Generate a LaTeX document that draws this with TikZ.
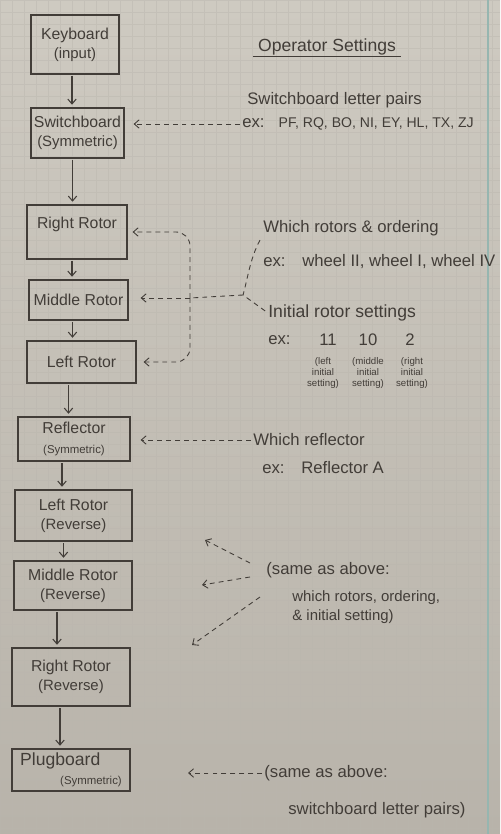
\documentclass[tikz,border=0pt]{standalone}
\usepackage{fontspec}
\setmainfont{Liberation Sans}
\usetikzlibrary{arrows.meta, positioning}

\definecolor{paper}{RGB}{206,202,193}
\definecolor{paperdark}{RGB}{184,179,170}
\definecolor{gridline}{RGB}{186,182,174}
\definecolor{pencil}{RGB}{66,61,56}
\definecolor{marginline}{RGB}{150,182,176}

\newcommand{\boxsub}[1]{{\fontsize{8.5}{10}\selectfont #1}}
\newcommand{\boxsmall}[1]{{\fontsize{6.5}{8}\selectfont #1}}

\begin{document}
\begin{tikzpicture}[x=0.2mm, y=-0.2mm, >={Straight Barb[length=2.8pt, width=4.8pt]},
  every node/.style={text=pencil},
  stage/.style={draw=pencil, line width=0.7pt, align=center, inner sep=1pt, font=\fontsize{9}{11}\selectfont},
  note/.style={anchor=west, inner sep=0pt, align=left, font=\fontsize{9.5}{12}\selectfont},
  smallnote/.style={inner sep=0pt, align=center, font=\fontsize{5.5}{6.5}\selectfont},
  flow/.style={->, draw=pencil, line width=0.6pt, shorten <=1pt, shorten >=1.5pt},
  hint/.style={->, draw=pencil, line width=0.5pt, dash pattern=on 2.8pt off 2.3pt}]

% Paper
\shade[top color=paper, bottom color=paperdark] (0,0) rectangle (500,834);
\useasboundingbox (0,0) rectangle (500,834);
\draw[gridline, opacity=0.45, line width=0.15pt, step=2.4mm] (0,834) grid (500,0);
\draw[marginline, line width=0.8pt] (488,0) -- (488,834);

% Machine stages
\node (kbd) [stage, minimum width=17.6mm, minimum height=11.8mm] at (75,44.5) {Keyboard\\\boxsub{(input)}};
\node (swb) [stage, minimum width=18.6mm, minimum height=10mm] at (77.5,133) {Switchboard\\\boxsub{(Symmetric)}};
\node (rr) [stage, minimum width=20mm, minimum height=10.8mm] at (77,232) {Right Rotor\\ \mbox{}};
\node (mr) [stage, minimum width=19.8mm, minimum height=8mm] at (78.5,300) {Middle Rotor};
\node (lr) [stage, minimum width=21.8mm, minimum height=8.4mm] at (81.5,362) {Left Rotor};
\node (refl) [stage, minimum width=22.4mm, minimum height=8.8mm] at (74,439) {Reflector\\\boxsmall{(Symmetric)}};
\node (lrr) [stage, minimum width=23.4mm, minimum height=10.2mm] at (73.5,515.5) {Left Rotor\\\boxsub{(Reverse)}};
\node (mrr) [stage, minimum width=23.6mm, minimum height=9.8mm] at (73,585.5) {Middle Rotor\\\boxsub{(Reverse)}};
\node (rrr) [stage, minimum width=23.6mm, minimum height=11.6mm] at (71,677) {Right Rotor\\\boxsub{(Reverse)}};
\node (plug) [stage, align=left, minimum width=23.6mm, minimum height=8.4mm, font=\fontsize{10}{11}\selectfont] at (71,770) {Plugboard\\\hspace*{8mm}\boxsmall{(Symmetric)}};

% Signal path
\foreach \a/\b/\dx in {kbd/swb/-3, swb/rr/-5, rr/mr/-5, mr/lr/-6, lr/refl/-13, refl/lrr/-12, lrr/mrr/-10, mrr/rrr/-16, rrr/plug/-11}
  \draw[flow] ([xshift=\dx*0.2mm]\a.south) -- ([xshift=\dx*0.2mm]\a.south |- \b.north);

% Operator settings
\node (title) [note, anchor=center, font=\fontsize{10}{12}\selectfont] at (327,47) {Operator Settings};
\draw[pencil, line width=0.6pt] ([xshift=-1mm, yshift=-0.8pt]title.south west) -- ([xshift=1mm, yshift=-0.8pt]title.south east);

\node (swlbl) [note] at (247,100) {Switchboard letter pairs};
\node (swex) [note, font=\fontsize{8}{9}\selectfont] at (242,124) {{\fontsize{9.5}{12}\selectfont ex:}\quad PF, RQ, BO, NI, EY, HL, TX, ZJ};
\draw[hint, shorten <=1pt, shorten >=1.8mm] (swex.west) -- (swb.east |- swex.west);

\node (rotlbl) [note] at (263,228) {Which rotors \& ordering};
\node (rotex) [note] at (263,262) {ex:\quad wheel II, wheel I, wheel IV};
\node (initlbl) [note, font=\fontsize{10}{12}\selectfont] at (268,313) {Initial rotor settings};
\node (initex) [note] at (268,340) {ex:};
\node (setl) [note, anchor=center] at (328,340) {11};
\node (setm) [note, anchor=center] at (368,340) {10};
\node (setr) [note, anchor=center] at (410,340) {2};
\node (subl) [smallnote] at (323,373) {(left\\initial\\setting)};
\node (subm) [smallnote] at (368,373) {(middle\\initial\\setting)};
\node (subr) [smallnote] at (412,373) {(right\\initial\\setting)};

\coordinate (rotj) at (243,295);
\coordinate (rotk) at (190,298);
\draw[hint, -] ([xshift=-0.6mm, yshift=-0.8mm]rotlbl.south west) .. controls (250,258) and (247,282) .. (rotj);
\draw[hint, -, shorten <=2pt] (initlbl.west) -- (rotj);
\draw[hint, -] (rotj) -- (rotk);
\draw[hint, shorten >=2.4mm] (rotk) -- (mr.east |- rotk);
\draw[hint, rounded corners=8pt, shorten >=1mm] (rotk) |- (rr.east);
\draw[hint, rounded corners=8pt, shorten >=1.4mm] (rotk) |- (lr.east);

\node (reflbl) [note] at (253,440) {Which reflector};
\node (refex) [note] at (262,468) {ex:\quad Reflector A};
\draw[hint, shorten <=1pt, shorten >=2mm] (reflbl.west) -- (refl.east |- reflbl.west);

\node (revlbl) [note] at (266,570) {(same as above:};
\node (revtxt) [note, font=\fontsize{8.5}{11}\selectfont] at (292,607) {which rotors, ordering,\\\& initial setting)};
\coordinate (revt1) at (205,540);
\coordinate (revt2) at (202,585);
\coordinate (revt3) at (192,645);
\draw[hint] ([shift={(-16,-7)}]revlbl.west) -- (revt1);
\draw[hint] ([shift={(-16,7)}]revlbl.west) -- (revt2);
\draw[hint] ([shift={(-6,27)}]revlbl.west) -- (revt3);

\node (pluglbl) [note] at (264,773) {(same as above:};
\node (plugtxt) [note] at (288,810) {switchboard letter pairs)};
\coordinate (plugt) at (188,773);
\draw[hint, shorten <=1pt] (pluglbl.west) -- (plugt);

\end{tikzpicture}
\end{document}
